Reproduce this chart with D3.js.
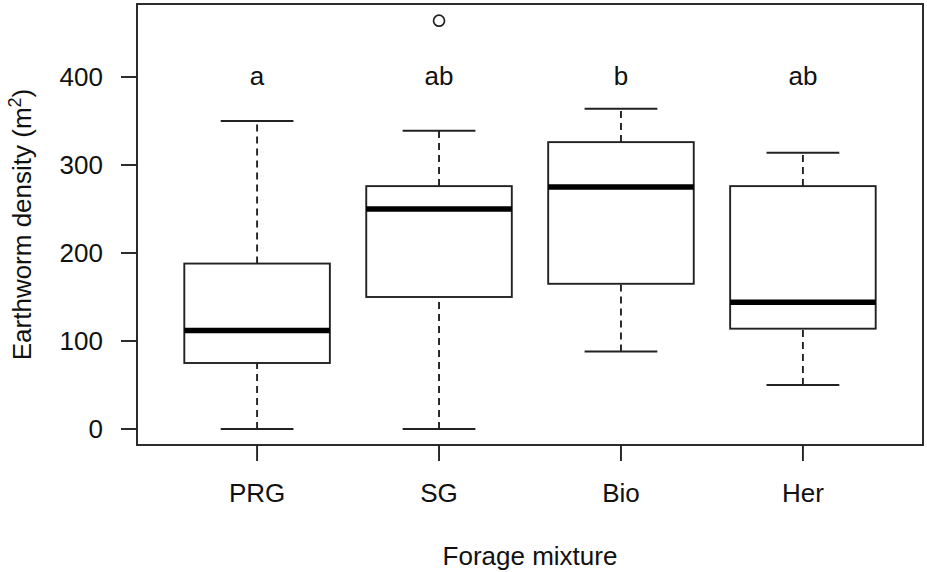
<!DOCTYPE html>
<html>
<head>
<meta charset="utf-8">
<script src="https://cdn.jsdelivr.net/npm/d3@7"></script>
<style>
  body { margin: 0; background: #fff; }
  text { font-family: "Liberation Sans", Arial, sans-serif; fill: #111; }
</style>
</head>
<body>
<svg id="chart" width="927" height="572"></svg>
<script>
// forage mixtures and their box statistics
var groups = ["PRG", "SG", "Bio", "Her"];
var whiskerLow = [0, 0, 88, 50];
var q1 = [75, 150, 165, 114];
var median = [112, 250, 275, 144];
var q3 = [188, 276, 326, 276];
var whiskerHigh = [350, 339, 364, 314];
var outliers = [[], [464], [], []];
var letters = ["a", "ab", "b", "ab"];
var yTicks = [0, 100, 200, 300, 400];

var svg = d3.select("#chart");

// plot region (R base graphics style box)
var plot = { left: 137, right: 923, top: 4, bottom: 445 };
var fontSize = "26px";
var lw = 1.9;

var x = d3.scaleLinear().domain([0.34, 4.66]).range([plot.left, plot.right]);
var y = d3.scaleLinear().domain([0, 100]).range([429, 341]);

var boxHalf = 0.4, capHalf = 0.2;

var boxes = svg.append("g").selectAll("g")
  .data(groups)
  .enter()
  .append("g");

// dashed whiskers
boxes.append("line")
  .attr("x1", function (d, i) { return x(i + 1); })
  .attr("x2", function (d, i) { return x(i + 1); })
  .attr("y1", function (d, i) { return y(whiskerLow[i]); })
  .attr("y2", function (d, i) { return y(q1[i]); })
  .attr("stroke", "#222").attr("stroke-width", lw).attr("stroke-dasharray", "7,5");
boxes.append("line")
  .attr("x1", function (d, i) { return x(i + 1); })
  .attr("x2", function (d, i) { return x(i + 1); })
  .attr("y1", function (d, i) { return y(q3[i]); })
  .attr("y2", function (d, i) { return y(whiskerHigh[i]); })
  .attr("stroke", "#222").attr("stroke-width", lw).attr("stroke-dasharray", "7,5");

// whisker caps
[whiskerLow, whiskerHigh].forEach(function (arr) {
  boxes.append("line")
    .attr("x1", function (d, i) { return x(i + 1 - capHalf); })
    .attr("x2", function (d, i) { return x(i + 1 + capHalf); })
    .attr("y1", function (d, i) { return y(arr[i]); })
    .attr("y2", function (d, i) { return y(arr[i]); })
    .attr("stroke", "#222").attr("stroke-width", lw);
});

// boxes
boxes.append("rect")
  .attr("x", function (d, i) { return x(i + 1 - boxHalf); })
  .attr("width", function (d, i) { return x(i + 1 + boxHalf) - x(i + 1 - boxHalf); })
  .attr("y", function (d, i) { return y(q3[i]); })
  .attr("height", function (d, i) { return y(q1[i]) - y(q3[i]); })
  .attr("fill", "none").attr("stroke", "#222").attr("stroke-width", lw);

// medians
boxes.append("line")
  .attr("x1", function (d, i) { return x(i + 1 - boxHalf); })
  .attr("x2", function (d, i) { return x(i + 1 + boxHalf); })
  .attr("y1", function (d, i) { return y(median[i]); })
  .attr("y2", function (d, i) { return y(median[i]); })
  .attr("stroke", "#000").attr("stroke-width", 5.5);

// outliers
boxes.each(function (d, i) {
  d3.select(this).selectAll("circle")
    .data(outliers[i])
    .enter()
    .append("circle")
    .attr("cx", x(i + 1))
    .attr("cy", function (v) { return y(v); })
    .attr("r", 5.5)
    .attr("fill", "none").attr("stroke", "#222").attr("stroke-width", 1.7);
});

// significance letters
boxes.append("text")
  .attr("x", function (d, i) { return x(i + 1); })
  .attr("y", y(400))
  .attr("dy", "0.3em")
  .attr("text-anchor", "middle")
  .style("font-size", fontSize)
  .text(function (d, i) { return letters[i]; });

// frame
svg.append("rect")
  .attr("x", plot.left).attr("y", plot.top)
  .attr("width", plot.right - plot.left).attr("height", plot.bottom - plot.top)
  .attr("fill", "none").attr("stroke", "#222").attr("stroke-width", lw);

// y axis
var yAxis = svg.append("g");
yAxis.selectAll("line")
  .data(yTicks).enter().append("line")
  .attr("x1", plot.left - 16).attr("x2", plot.left)
  .attr("y1", function (d) { return y(d); })
  .attr("y2", function (d) { return y(d); })
  .attr("stroke", "#222").attr("stroke-width", lw);
yAxis.selectAll("text")
  .data(yTicks).enter().append("text")
  .attr("x", 103)
  .attr("y", function (d) { return y(d); })
  .attr("dy", "0.36em")
  .attr("text-anchor", "end")
  .style("font-size", fontSize)
  .text(function (d) { return d; });

// x axis
var xAxis = svg.append("g");
xAxis.selectAll("line")
  .data(groups).enter().append("line")
  .attr("x1", function (d, i) { return x(i + 1); })
  .attr("x2", function (d, i) { return x(i + 1); })
  .attr("y1", plot.bottom).attr("y2", plot.bottom + 16)
  .attr("stroke", "#222").attr("stroke-width", lw);
xAxis.selectAll("text")
  .data(groups).enter().append("text")
  .attr("x", function (d, i) { return x(i + 1); })
  .attr("y", 502)
  .attr("text-anchor", "middle")
  .style("font-size", fontSize)
  .text(function (d) { return d; });

// axis titles
svg.append("text")
  .attr("x", (plot.left + plot.right) / 2)
  .attr("y", 565)
  .attr("text-anchor", "middle")
  .style("font-size", fontSize)
  .text("Forage mixture");

var yTitle = svg.append("text")
  .attr("transform", "translate(31," + ((plot.top + plot.bottom) / 2) + ") rotate(-90)")
  .attr("text-anchor", "middle")
  .style("font-size", fontSize);
yTitle.append("tspan").text("Earthworm density (m");
yTitle.append("tspan").attr("baseline-shift", "super").style("font-size", "18px").text("2");
yTitle.append("tspan").text(")");
</script>
</body>
</html>
